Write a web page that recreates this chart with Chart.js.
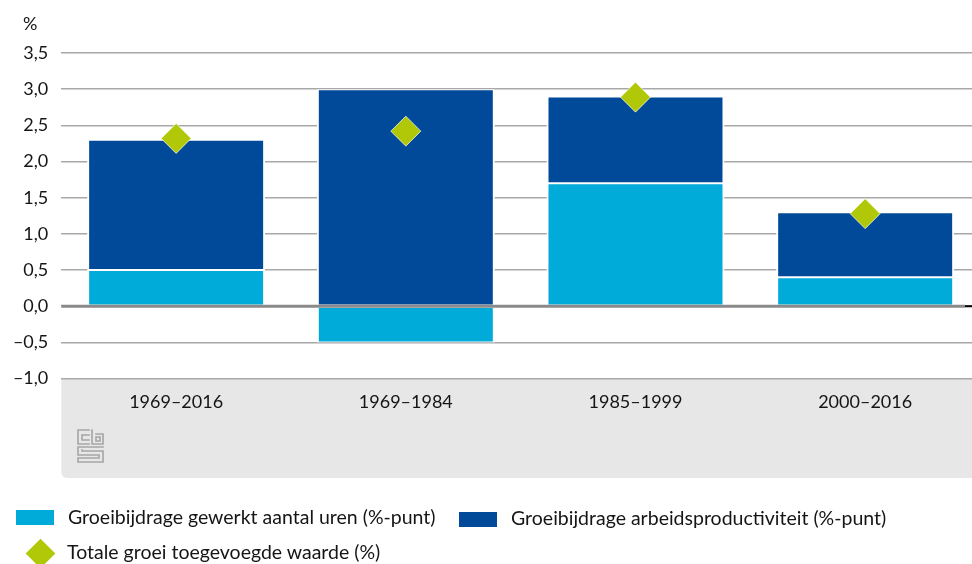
<!DOCTYPE html>
<html><head><meta charset="utf-8">
<script src="https://cdn.jsdelivr.net/npm/chart.js@4"></script>
<style>
html,body{margin:0;padding:0;background:#fff;width:972px;height:564px;overflow:hidden;font-family:Lato,sans-serif;color:#151515}
#wrap{position:absolute;left:0;top:0;width:990px;height:564px}
.lg{position:absolute;font-size:19.5px;line-height:20px;white-space:nowrap}
.box{position:absolute;width:38px;height:15px}
.dia{position:absolute;width:21px;height:21px;transform:rotate(45deg)}
</style></head><body>
<div id="wrap"><canvas id="c" width="990" height="564" style="width:990px;height:564px"></canvas></div>
<div class="lg" style="left:23px;top:14px;font-size:18px;line-height:18px">%</div>
<div class="box" id="b1" style="left:16px;top:510px"></div>
<div class="lg" id="t1" style="left:68px;top:507px"></div>
<div class="box" id="b2" style="left:459px;top:512px"></div>
<div class="lg" id="t2" style="left:511px;top:508px"></div>
<div class="dia" id="b3" style="left:29.5px;top:542.5px"></div>
<div class="lg" id="t3" style="left:67px;top:542px"></div>
<script>
const categories = ['1969–2016', '1969–1984', '1985–1999', '2000–2016'];
const seriesNames = ['Groeibijdrage gewerkt aantal uren (%-punt)', 'Groeibijdrage arbeidsproductiviteit (%-punt)', 'Totale groei toegevoegde waarde (%)'];
const urenValues = [0.5, -0.5, 1.7, 0.4];
const productiviteitValues = [1.8, 3.0, 1.2, 0.9];
const totaalValues = [2.32, 2.42, 2.89, 1.28];
const yMin = -1, yMax = 3.5, yStep = 0.5;

const colLight = '#00aad9', colDark = '#004a99', colLime = '#b0c808';

document.getElementById('b1').style.background = colLight;
document.getElementById('b2').style.background = colDark;
document.getElementById('b3').style.background = colLime;
document.getElementById('t1').textContent = seriesNames[0];
document.getElementById('t2').textContent = seriesNames[1];
document.getElementById('t3').textContent = seriesNames[2];

function drawLogo(ctx, L, T) {
  ctx.save();
  ctx.strokeStyle = '#a6a6a6';
  ctx.lineWidth = 1.6;
  ctx.lineCap = 'square';
  ctx.beginPath();
  // c
  ctx.moveTo(L + 12, T + 1); ctx.lineTo(L + 1, T + 1); ctx.lineTo(L + 1, T + 15); ctx.lineTo(L + 12, T + 15);
  ctx.moveTo(L + 12, T + 6); ctx.lineTo(L + 5, T + 6); ctx.lineTo(L + 5, T + 11); ctx.lineTo(L + 12, T + 11);
  // b
  ctx.moveTo(L + 15, T + 1); ctx.lineTo(L + 15, T + 15); ctx.lineTo(L + 26, T + 15); ctx.lineTo(L + 26, T + 5); ctx.lineTo(L + 19, T + 5);
  ctx.rect(L + 19, T + 8, 4, 4);
  // S
  ctx.moveTo(L + 26, T + 18); ctx.lineTo(L + 1, T + 18); ctx.lineTo(L + 1, T + 26); ctx.lineTo(L + 22, T + 26); ctx.lineTo(L + 22, T + 29); ctx.lineTo(L + 1, T + 29); ctx.lineTo(L + 1, T + 33); ctx.lineTo(L + 26, T + 33); ctx.lineTo(L + 26, T + 22); ctx.lineTo(L + 5, T + 22); ctx.lineTo(L + 5, T + 21);
  ctx.stroke();
  ctx.restore();
}

const decor = {
  id: 'decor',
  beforeDraw(chart) {
    const ctx = chart.ctx, a = chart.chartArea;
    const x0 = a.left, y0 = a.bottom, y1 = 478, x1 = chart.width, r = 6;
    ctx.save();
    ctx.fillStyle = '#e7e7e7';
    ctx.beginPath();
    ctx.moveTo(x0, y0); ctx.lineTo(x1, y0); ctx.lineTo(x1, y1); ctx.lineTo(x0 + r, y1);
    ctx.arcTo(x0, y1, x0, y1 - r, r); ctx.closePath(); ctx.fill();
    ctx.restore();
    drawLogo(ctx, 77, 429);
  },
  afterDatasetsDraw(chart) {
    const ctx = chart.ctx, a = chart.chartArea;
    const y = chart.scales.y.getPixelForValue(0);
    ctx.save();
    ctx.lineWidth = 3;
    ctx.strokeStyle = '#8a8a8a';
    ctx.beginPath(); ctx.moveTo(a.left, y); ctx.lineTo(965, y); ctx.stroke();
    ctx.lineWidth = 2;
    ctx.strokeStyle = '#000';
    ctx.beginPath(); ctx.moveTo(965, y); ctx.lineTo(a.right, y); ctx.stroke();
    ctx.restore();
  }
};

const barBorder = {top: 1, bottom: 1, left: 2, right: 2};

new Chart(document.getElementById('c'), {
  data: {
    labels: categories,
    datasets: [
      { type: 'line', label: seriesNames[2], data: totaalValues, stack: 'total', showLine: false,
        pointStyle: 'rectRot', pointRadius: 15, pointHoverRadius: 15, pointBackgroundColor: colLime,
        pointBorderColor: 'rgba(255,255,255,0.7)', pointBorderWidth: 1 },
      { type: 'bar', label: seriesNames[0], data: urenValues, stack: 's', backgroundColor: colLight,
        borderColor: '#ffffff', borderWidth: barBorder, borderSkipped: false, barPercentage: 1, categoryPercentage: 0.775 },
      { type: 'bar', label: seriesNames[1], data: productiviteitValues, stack: 's', backgroundColor: colDark,
        borderColor: '#ffffff', borderWidth: barBorder, borderSkipped: false, barPercentage: 1, categoryPercentage: 0.775 }
    ]
  },
  options: {
    responsive: false,
    animation: false,
    events: [],
    layout: { autoPadding: false, padding: { left: 0, top: 53, right: 10, bottom: 0 } },
    plugins: { legend: { display: false }, tooltip: { enabled: false } },
    scales: {
      x: {
        stacked: true,
        grid: { display: false, drawTicks: false },
        border: { display: false },
        ticks: { color: '#151515', font: { family: 'Lato', size: 18 }, padding: 13, maxRotation: 0 },
        afterFit(s) { s.height = 564 - 378.6; }
      },
      y: {
        stacked: true,
        min: yMin, max: yMax,
        grid: { color: '#a8a8a8', lineWidth: 1.5, drawTicks: false },
        border: { display: false },
        ticks: { stepSize: yStep, color: '#151515', font: { family: 'Lato', size: 18 }, padding: 13,
          callback: v => v.toFixed(1).replace('.', ',').replace('-', '–') },
        afterFit(s) { s.width = 61.3; }
      }
    }
  },
  plugins: [decor]
});
</script>
</body></html>
